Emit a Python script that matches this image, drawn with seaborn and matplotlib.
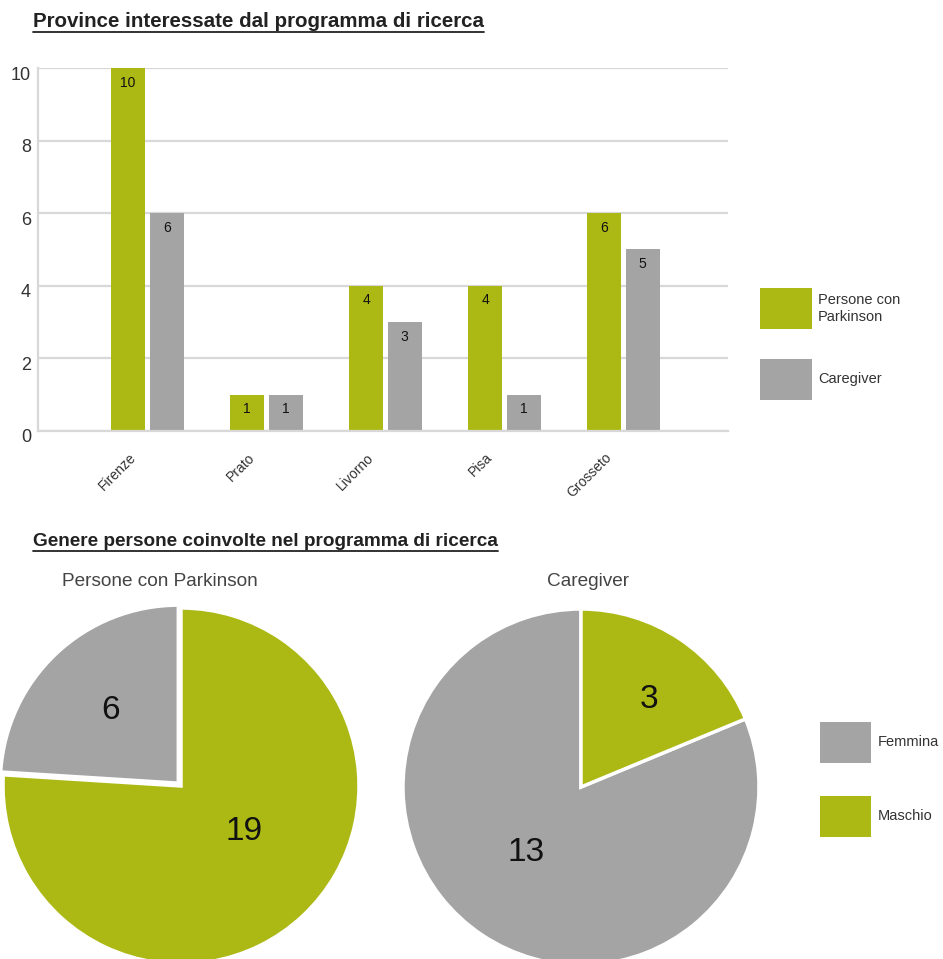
import numpy as np
import pandas as pd
import matplotlib
matplotlib.use("Agg")
import matplotlib.pyplot as plt
import matplotlib.transforms as mtransforms
from matplotlib.patches import Rectangle
from matplotlib.lines import Line2D
import seaborn as sns

# ---- data ----
province = ["Firenze", "Prato", "Livorno", "Pisa", "Grosseto"]
series = ["Persone con\nParkinson", "Caregiver"]
parkinson_counts = [10, 1, 4, 4, 6]
caregiver_counts = [6, 1, 3, 1, 5]
y_ticks = [0, 2, 4, 6, 8, 10]

genders = ["Femmina", "Maschio"]
pie_titles = ["Persone con Parkinson", "Caregiver"]
gender_parkinson = [6, 19]
gender_caregiver = [13, 3]

title_bars = "Province interessate dal programma di ricerca"
title_pies = "Genere persone coinvolte nel programma di ricerca"

# ---- style ----
GREEN = "#acb914"
GREY = "#a4a4a4"
GRID = "#d8d8d8"
TEXT = "#333333"

sns.set_theme(style="white")
plt.rcParams["font.family"] = ["Liberation Sans", "DejaVu Sans"]

W, H = 943, 959
fig = plt.figure(figsize=(W / 100, H / 100), dpi=100)
fig.patch.set_facecolor("white")


def fx(x):
    return x / W


def fy(y):
    return 1 - y / H


def px_box(x0, y0, x1, y1):
    return [fx(x0), fy(y1), (x1 - x0) / W, (y1 - y0) / H]


# ---- grouped bar chart ----
df = pd.DataFrame({
    "Provincia": province * 2,
    "Gruppo": [series[0]] * len(province) + [series[1]] * len(province),
    "Numero": parkinson_counts + caregiver_counts,
})

ax = fig.add_axes(px_box(38, 68, 728, 431))
sns.barplot(data=df, x="Provincia", y="Numero", hue="Gruppo",
            palette=[GREEN, GREY], width=0.65, gap=0.12, legend=False,
            ax=ax, saturation=1, edgecolor="none")
for cont in ax.containers:
    ax.bar_label(cont, fmt="%d", padding=-15.5, fontsize=10, color="#111111")

ax.set_ylim(0, 10)
ax.set_xlim(-0.92, 4.88)
ax.set_yticks(y_ticks)
ax.yaxis.grid(True, color=GRID, linewidth=1.6)
ax.set_axisbelow(True)
ax.set_xlabel("")
ax.set_ylabel("")
for side in ["top", "right"]:
    ax.spines[side].set_visible(False)
for side in ["left", "bottom"]:
    ax.spines[side].set_color(GRID)
    ax.spines[side].set_linewidth(1.6)
ax.tick_params(axis="both", length=0)
ax.tick_params(axis="y", labelsize=13, labelcolor=TEXT, pad=5)
ax.tick_params(axis="x", labelsize=10, labelcolor=TEXT, pad=14)
plt.setp(ax.get_xticklabels(), rotation=45, ha="right")
down = mtransforms.ScaledTranslation(0, -5 / 100, fig.dpi_scale_trans)
for lbl in ax.get_yticklabels():
    lbl.set_transform(lbl.get_transform() + down)
shift = mtransforms.ScaledTranslation(-9 / 100, 0, fig.dpi_scale_trans)
for lbl in ax.get_xticklabels():
    lbl.set_transform(lbl.get_transform() + shift)

# legend for the bars
for i, (name, col) in enumerate(zip(series, [GREEN, GREY])):
    top = 288 + i * 71
    fig.add_artist(Rectangle((fx(760), fy(top + 41)), 52 / W, 41 / H,
                             transform=fig.transFigure, facecolor=col,
                             edgecolor="none"))
    fig.text(fx(818), fy(top + 20.5), name, fontsize=10.5, color=TEXT,
             va="center", ha="left", linespacing=1.25)

# ---- pies ----
pie_boxes = [(3, 608, 359, 964), (403, 609, 759, 965)]
pie_data = [gender_parkinson, gender_caregiver]
pie_explode = [[0.022, 0], [0, 0]]
# radial position and angular shift of each value label
label_pos = [[(0.58, 0), (0.44, 11)], [(0.48, -6), (0.62, -4)]]
title_x = [160, 588]

for k in range(2):
    pax = fig.add_axes(px_box(*pie_boxes[k]))
    wedges, _ = pax.pie(pie_data[k], colors=[GREY, GREEN], startangle=90,
                        counterclock=True, explode=pie_explode[k],
                        wedgeprops=dict(edgecolor="white", linewidth=2.5))
    pax.set_xlim(-1.0, 1.0)
    pax.set_ylim(-1.0, 1.0)
    pax.set_aspect("equal")
    pax.axis("off")
    for w, v, (r, dth) in zip(wedges, pie_data[k], label_pos[k]):
        mid = np.deg2rad((w.theta1 + w.theta2) / 2 + dth)
        pax.text(r * np.cos(mid), r * np.sin(mid), str(v), fontsize=24,
                 ha="center", va="center", color="#111111")
    fig.text(fx(title_x[k]), fy(582), pie_titles[k], fontsize=13.7,
             color="#444444", ha="center", va="center")

# legend for the pies
for i, (name, col) in enumerate(zip(genders, [GREY, GREEN])):
    top = 722 + i * 74
    fig.add_artist(Rectangle((fx(820), fy(top + 41)), 51 / W, 41 / H,
                             transform=fig.transFigure, facecolor=col,
                             edgecolor="none"))
    fig.text(fx(878), fy(top + 20.5), name, fontsize=10.5, color=TEXT,
             va="center", ha="left")

# ---- underlined section titles ----
renderer = fig.canvas.get_renderer()
for txt, x0, base, size in [(title_bars, 33, 27, 14.75),
                            (title_pies, 33, 546, 13.7)]:
    t = fig.text(fx(x0), fy(base), txt, fontsize=size, fontweight="bold",
                 color="#222222", ha="left", va="baseline")
    bb = t.get_window_extent(renderer=renderer)
    yl = fy(base + 5)
    fig.add_artist(Line2D([bb.x0 / W, bb.x1 / W], [yl, yl],
                          transform=fig.transFigure, color="#222222",
                          linewidth=1.3))

fig.savefig("out.png", dpi=100, facecolor="white")
